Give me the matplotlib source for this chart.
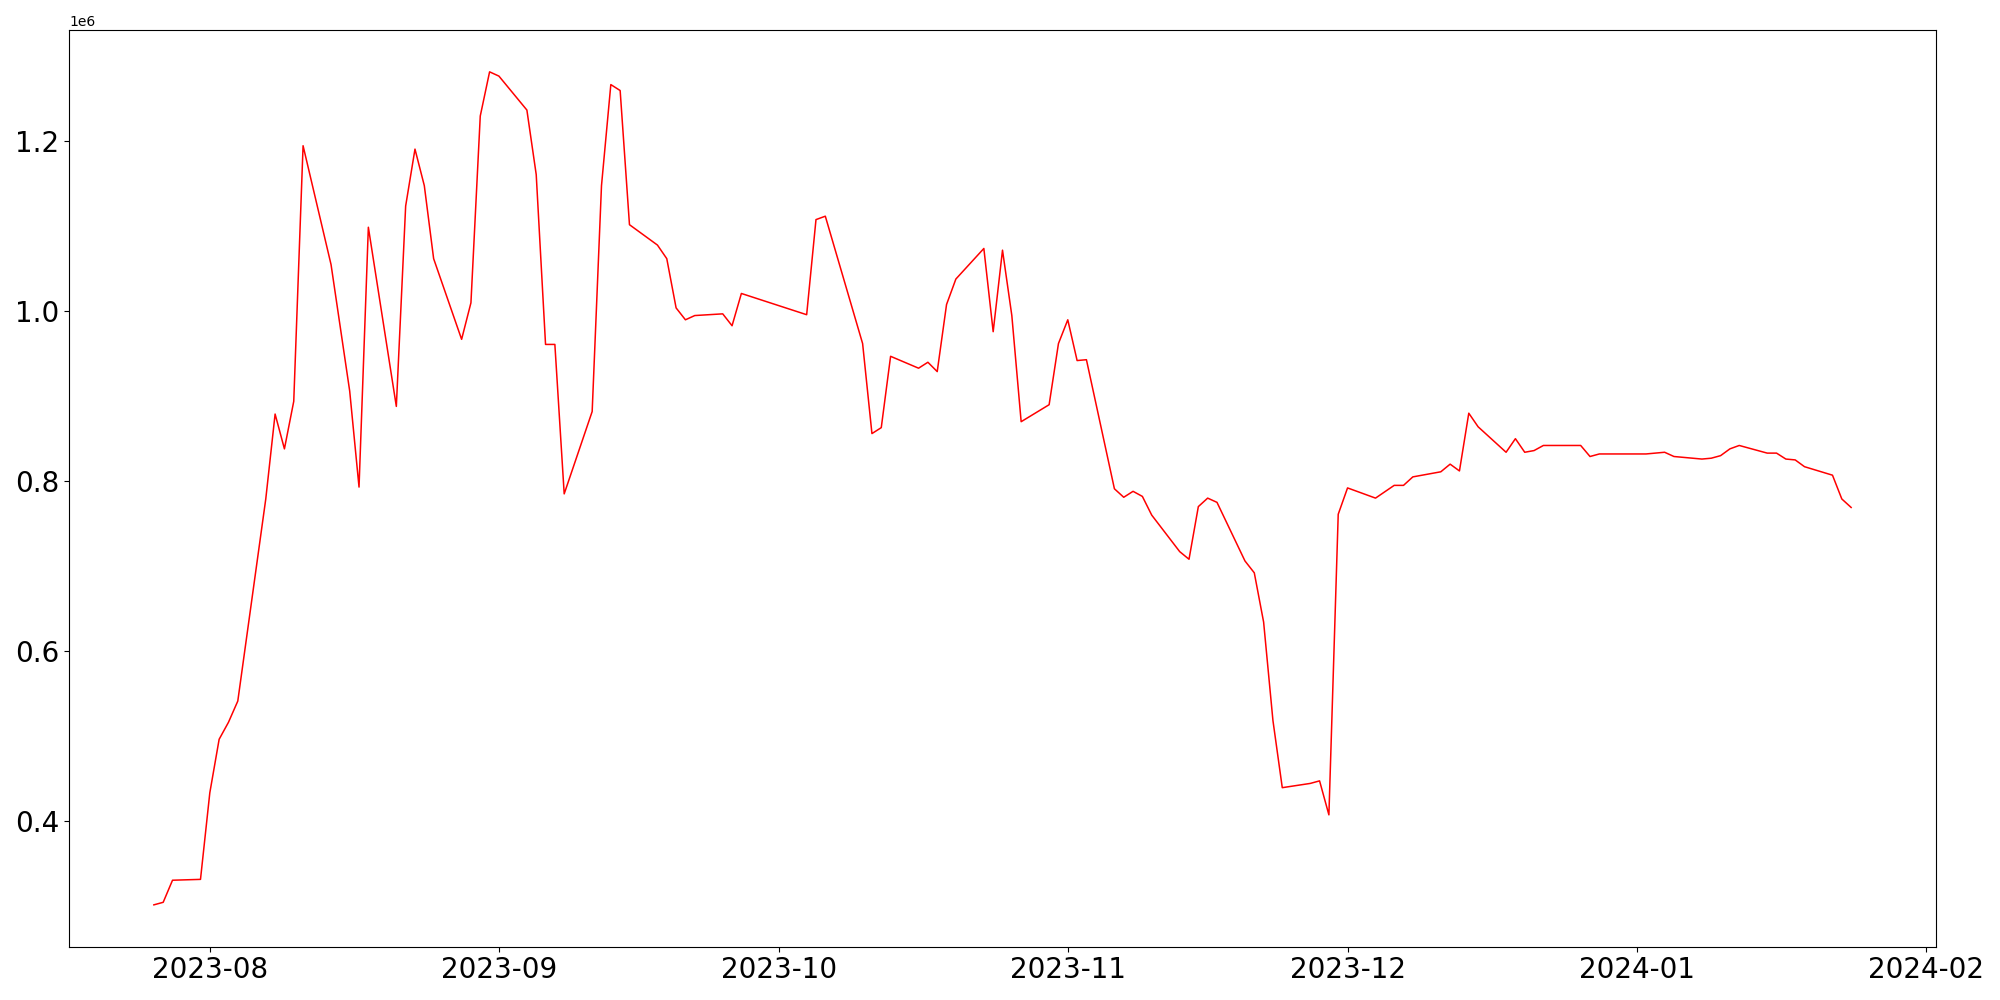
import matplotlib
matplotlib.use("Agg")
import matplotlib.pyplot as plt
import pandas as pd

dates = [
    "2023-07-26", "2023-07-27", "2023-07-28", "2023-07-31",
    "2023-08-01", "2023-08-02", "2023-08-03", "2023-08-04",
    "2023-08-07", "2023-08-08", "2023-08-09", "2023-08-10", "2023-08-11",
    "2023-08-14", "2023-08-16", "2023-08-17", "2023-08-18",
    "2023-08-21", "2023-08-22", "2023-08-23", "2023-08-24", "2023-08-25",
    "2023-08-28", "2023-08-29", "2023-08-30", "2023-08-31", "2023-09-01",
    "2023-09-04", "2023-09-05", "2023-09-06", "2023-09-07", "2023-09-08",
    "2023-09-11", "2023-09-12", "2023-09-13", "2023-09-14", "2023-09-15",
    "2023-09-18", "2023-09-19", "2023-09-20", "2023-09-21", "2023-09-22",
    "2023-09-25", "2023-09-26", "2023-09-27",
    "2023-10-04", "2023-10-05", "2023-10-06",
    "2023-10-10", "2023-10-11", "2023-10-12", "2023-10-13",
    "2023-10-16", "2023-10-17", "2023-10-18", "2023-10-19", "2023-10-20",
    "2023-10-23", "2023-10-24", "2023-10-25", "2023-10-26", "2023-10-27",
    "2023-10-30", "2023-10-31", "2023-11-01", "2023-11-02", "2023-11-03",
    "2023-11-06", "2023-11-07", "2023-11-08", "2023-11-09", "2023-11-10",
    "2023-11-13", "2023-11-14", "2023-11-15", "2023-11-16", "2023-11-17",
    "2023-11-20", "2023-11-21", "2023-11-22", "2023-11-23", "2023-11-24",
    "2023-11-27", "2023-11-28", "2023-11-29", "2023-11-30", "2023-12-01",
    "2023-12-04", "2023-12-06", "2023-12-07", "2023-12-08",
    "2023-12-11", "2023-12-12", "2023-12-13", "2023-12-14", "2023-12-15",
    "2023-12-18", "2023-12-19", "2023-12-20", "2023-12-21", "2023-12-22",
    "2023-12-26", "2023-12-27", "2023-12-28", "2023-12-29",
    "2024-01-02", "2024-01-03", "2024-01-04", "2024-01-05",
    "2024-01-08", "2024-01-09", "2024-01-10", "2024-01-11", "2024-01-12",
    "2024-01-15", "2024-01-16", "2024-01-17", "2024-01-18", "2024-01-19",
    "2024-01-22", "2024-01-23", "2024-01-24",
]

values_m = [
    0.301, 0.304, 0.330, 0.331,
    0.433, 0.496, 0.516, 0.541,
    0.779, 0.879, 0.838, 0.894, 1.195,
    1.055, 0.906, 0.793, 1.099,
    0.888, 1.124, 1.191, 1.148, 1.062,
    0.967, 1.010, 1.230, 1.282, 1.277,
    1.237, 1.161, 0.961, 0.961, 0.785,
    0.882, 1.148, 1.267, 1.260, 1.102,
    1.078, 1.062, 1.004, 0.990, 0.995,
    0.997, 0.983, 1.021,
    0.996, 1.108, 1.112,
    0.962, 0.856, 0.863, 0.947,
    0.933, 0.940, 0.929, 1.008, 1.038,
    1.074, 0.976, 1.072, 0.995, 0.870,
    0.890, 0.962, 0.990, 0.942, 0.943,
    0.791, 0.781, 0.788, 0.782, 0.760,
    0.717, 0.708, 0.770, 0.780, 0.775,
    0.706, 0.692, 0.634, 0.518, 0.439,
    0.444, 0.447, 0.407, 0.761, 0.792,
    0.780, 0.795, 0.795, 0.805,
    0.811, 0.820, 0.812, 0.880, 0.864,
    0.834, 0.850, 0.834, 0.836, 0.842,
    0.842, 0.829, 0.832, 0.832,
    0.832, 0.833, 0.834, 0.829,
    0.826, 0.827, 0.830, 0.838, 0.842,
    0.833, 0.833, 0.826, 0.825, 0.817,
    0.807, 0.779, 0.769,
]

x = pd.to_datetime(dates)
y = [v * 1e6 for v in values_m]

fig = plt.figure(figsize=(20, 10), dpi=100)
ax = fig.add_axes([0.0345, 0.0535, 0.9335, 0.9163])
ax.plot(x, y, color="red", linewidth=1.1)
ax.tick_params(axis="both", labelsize=20)
fig.savefig("out.png", dpi=100)
